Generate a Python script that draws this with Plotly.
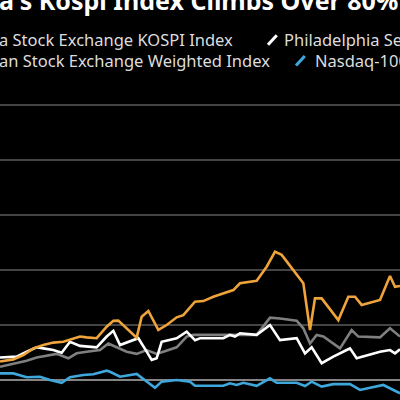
import plotly.graph_objects as go

kospi_x = [0,4,7,10,13,16,19,22,24,26,29,32,34,35.5,38,41,42.5,44.5,47.5,50,53,55,58.5,61,64,67,70,72,77,80,82.5,84.5,88,91,93,94.5,96.5,101.5,104.5,106.5,108.5,114,117,118.5,120]
kospi_y = [6.7,7.5,9.1,11.5,12.7,13.6,13.9,15.2,15.8,15.5,15.2,19.4,21.5,21.6,18.8,15.4,23.0,25.1,18.2,20.0,22.8,23.6,28.5,28.7,30.3,31.5,32.7,35.2,36.1,41.2,46.7,45.5,40.0,35.2,18.2,29.7,29.7,21.8,30.3,30.3,27.3,29.1,37.8,33.9,34.2]

sox_x = [0,5,8,11,13,16,18.5,21,24,29,32,34,36,40,41.5,44,45.5,47,48.5,53,56,58.5,60,67,69,70.5,72,77,81,84,89,91.5,93.5,96.5,100,104,105,107,114,117,118.5,120]
sox_y = [8.2,8.5,10.3,11.9,11.5,10.9,9.9,13.9,12.4,11.9,15.8,17.9,12.7,14.5,15.2,10.3,7.3,7.9,13.9,15.2,17.6,14.5,15.2,15.2,16.4,15.8,17.0,16.4,20.0,14.5,15.2,9.7,11.9,6.1,8.5,10.9,11.5,7.9,10.3,10.9,9.7,11.2]

taiex_x = [0,4,8,11,13,17,20.5,23,26,30,32.5,35,38,41,44,47,50,53,56,58,77,81,84,89,91,93,95,97,102,105.5,107.5,114,117,120]
taiex_y = [4.8,5.8,7.0,8.2,8.7,9.5,7.9,9.7,10.3,10.9,13.3,11.9,10.3,9.5,10.9,9.5,10.7,11.9,15.8,16.4,16.4,22.7,22.4,21.6,18.8,13.3,16.4,15.8,11.5,18.2,15.8,15.5,18.8,15.8]

ndx_x = [0,4,8,12,15,18.5,21,25,28,32,33,36,41,44,46.5,48.5,53,57,58.5,67,69,71,73,77,81,83,89,91.5,93.5,96.5,100,105,108,115,117,120]
ndx_y = [2.4,2.4,1.0,1.2,0,-1.0,1.0,1.8,2.1,3.4,3.0,1.2,2.2,-0.6,-2.8,-0.6,0,-0.6,-2.1,-2.1,-1.2,-1.8,-1.0,-2.1,0.6,-1.0,-1.0,-2.2,-0.6,-2.4,-1.5,-1.5,-3.6,-1.8,-3.0,-4.8]

grid_vals = [20, 40, 60, 80, 100]

fig = go.Figure()
for xs, ys, c in [(taiex_x, taiex_y, "#7f7f7f"), (ndx_x, ndx_y, "#3ea8dc"),
                  (sox_x, sox_y, "#ffffff"), (kospi_x, kospi_y, "#eea33b")]:
    fig.add_trace(go.Scatter(x=xs, y=ys, mode="lines",
                             line=dict(color=c, width=2.6), showlegend=False))

fig.add_hline(y=0, line_color="#b0b0b0", line_width=1.5, layer="below")
fig.update_layout(
    width=400, height=400, margin=dict(l=0, r=0, t=0, b=0),
    paper_bgcolor="black", plot_bgcolor="black",
    xaxis=dict(range=[0, 120], visible=False),
    yaxis=dict(range=[-7.27, 138.2], tickvals=grid_vals,
               showticklabels=False, gridcolor="#444444", gridwidth=1.5, zeroline=False),
    font=dict(family="Noto Sans", color="#dddddd"),
)
ann = dict(xref="paper", yref="paper", xanchor="left", yanchor="middle", showarrow=False, xshift=-3)
fig.add_annotation(x=0, y=1.0, text="<b>a's Kospi Index Climbs Over 80%</b>",
                   font=dict(size=25, color="white"), **ann)
fig.add_annotation(x=0, y=0.9, text="a Stock Exchange KOSPI Index", font=dict(size=16.5, color="#dddddd"), **ann)
fig.add_annotation(x=0.712, y=0.9, text="Philadelphia Semiconductor Index", font=dict(size=16.5, color="#dddddd"), **ann)
fig.add_annotation(x=0, y=0.848, text="an Stock Exchange Weighted Index", font=dict(size=16.5, color="#dddddd"), **ann)
fig.add_annotation(x=0.79, y=0.848, text="Nasdaq-100 Index", font=dict(size=16.5, color="#dddddd"), **ann)
for x0, yy, c in [(0.67, 0.9, "white"), (0.74, 0.848, "#3ea8dc")]:
    fig.add_shape(type="line", xref="paper", yref="paper", x0=x0, x1=x0+0.022, y0=yy-0.012, y1=yy+0.012,
                  line=dict(color=c, width=3))
fig.write_html("out.html", config={"displayModeBar": False},
               post_script="document.body.style.margin='0';document.body.style.background='black';")
